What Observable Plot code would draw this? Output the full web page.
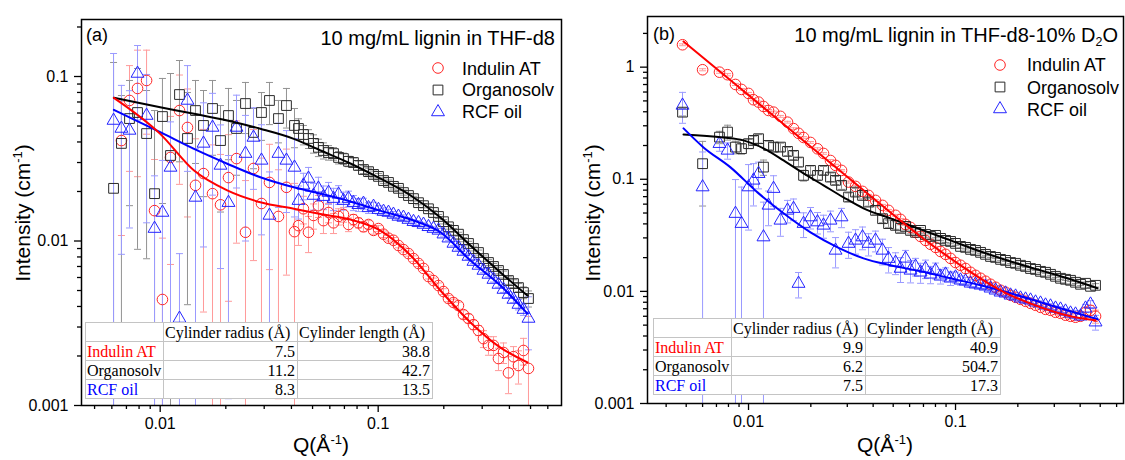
<!DOCTYPE html>
<html>
<head>
<meta charset="utf-8">
<script src="https://cdn.jsdelivr.net/npm/d3@7"></script>
<script src="https://cdn.jsdelivr.net/npm/@observablehq/plot@0.6"></script>
<style>
html,body{margin:0;padding:0;background:#fff;}
#chart{position:relative;width:1125px;height:460px;overflow:hidden;background:#fff;font-family:"Liberation Sans",Arial,Helvetica,sans-serif;color:#000;}
.txt{position:absolute;white-space:nowrap;line-height:1;}
.txt svg{display:block;overflow:visible;}
.ylab{position:absolute;white-space:nowrap;line-height:1;font-size:21px;transform:translate(-50%,-50%) rotate(-90deg);}
.xlab{position:absolute;white-space:nowrap;line-height:1;font-size:21px;transform:translateX(-50%);}
sup{font-size:0.62em;vertical-align:0.6em;line-height:0;}
sub{font-size:0.62em;vertical-align:-0.3em;line-height:0;}
table.fit{position:absolute;border-collapse:collapse;table-layout:fixed;width:347px;background:#fff;font-family:"Liberation Serif","Times New Roman",serif;font-size:16px;color:#000;}
table.fit td{border:1px solid #c4c4c4;height:19px;padding:0 2px 0 1px;line-height:17px;white-space:nowrap;overflow:visible;box-sizing:border-box;}
table.fit td.num{text-align:right;}
</style>
</head>
<body>
<div id="chart"></div>
<script>
// ---------------- data ----------------
const seriesNames = ["Indulin AT", "Organosolv", "RCF oil"];

// panel (a): THF-d8
const qA = [0.00611, 0.00664, 0.00723, 0.00787, 0.00866, 0.00942, 0.01024, 0.01115, 0.01226, 0.01334, 0.01452, 0.01580, 0.01738, 0.01891, 0.02057, 0.02239, 0.02462, 0.02679, 0.02915, 0.03172, 0.03488, 0.03796, 0.04131,
  0.0431, 0.0454, 0.0479, 0.0505, 0.0532, 0.0561, 0.0592, 0.0624, 0.0658, 0.0693, 0.0731, 0.0770, 0.0812, 0.0856, 0.0903, 0.0952, 0.1003, 0.1058, 0.1115, 0.1175, 0.1239, 0.1306, 0.1377, 0.1452, 0.1531, 0.1614, 0.1701, 0.1793, 0.1891, 0.1993, 0.2101, 0.2215, 0.2335, 0.2462, 0.2596, 0.2736, 0.2885, 0.3041, 0.3206, 0.3380, 0.3563, 0.3757, 0.3960, 0.4175, 0.4401, 0.4640, 0.4892];
const indulinA = [null, 0.0408, 0.0715, 0.0846, 0.0946, 0.0153, 0.00441, 0.0322, 0.0621, 0.0490, 0.0218, 0.0257, 0.0194, 0.0166, 0.0243, 0.0317, 0.0113, 0.0276, 0.0169, 0.0227, 0.0141, 0.0212, 0.0114,
  0.0124, 0.0157, 0.0113, 0.0143, 0.0164, 0.0133, 0.0149, 0.0129, 0.0141, 0.0145, 0.0126, 0.0135, 0.0129, 0.0122, 0.0126, 0.0116, 0.0119, 0.0110, 0.0104, 0.0101, 0.00939, 0.00887, 0.00839, 0.00782, 0.00730, 0.00681, 0.00608, 0.00575, 0.00536, 0.00493, 0.00447, 0.00423, 0.00405, 0.00357, 0.00338, 0.00310, 0.00286, 0.00255, 0.00232, 0.00232, 0.00193, 0.00210, 0.00158, 0.00198, 0.00175, 0.00216, 0.00168];
const indulinAErr = [null, 0.030, 0.045, 0.060, 0.050, 0.016, 0.006, 0.025, 0.040, 0.035, 0.020, 0.022, 0.019, 0.017, 0.020, 0.022, 0.012, 0.020, 0.015, 0.016, 0.013, 0.015, 0.011,
  0.0030, 0.0030, 0.0028, 0.0025, 0.0025, 0.0022, 0.0020, 0.0018, 0.0016, 0.0015, 0.0012, 0.0010, 0.0009, 0.0008, 0.0007, 0.0006, 0.0005, 0.0005, 0.0004, 0.0004, 0.0003, 0.0003, 0.0003, 0.0003, 0.0003, 0.0002, 0.0002, 0.0002, 0.0002, 0.0002, 0.0002, 0.0002, 0.0002, 0.0002, 0.0002, 0.0002, 0.0002, 0.0003, 0.0003, 0.0003, 0.0003, 0.0003, 0.0004, 0.0003, 0.0004, 0.0004, 0.0018];
const organosolvA = [0.0209, 0.0392, 0.0555, 0.0604, 0.0450, 0.0194, 0.0571, 0.0331, 0.0777, 0.0420, 0.0621, 0.0504, 0.0639, 0.0408, 0.0579, 0.0483, 0.0685, 0.0457, 0.0604, 0.0715, 0.0555, 0.0666, 0.0504,
  0.0483, 0.0444, 0.0420, 0.0392, 0.0371, 0.0355, 0.0345, 0.0340, 0.0322, 0.0317, 0.0305, 0.0300, 0.0288, 0.0272, 0.0264, 0.0254, 0.0247, 0.0233, 0.0227, 0.0215, 0.0209, 0.0197, 0.0189, 0.0181, 0.0171, 0.0164, 0.0157, 0.0149, 0.0141, 0.0131, 0.0122, 0.0116, 0.0110, 0.0102, 0.00966, 0.00900, 0.00851, 0.00782, 0.00740, 0.00700, 0.00662, 0.00626, 0.00575, 0.00551, 0.00521, 0.00486, 0.00447];
const organosolvAErr = [0.1008, 0.0374, 0.0391, 0.0515, 0.0372, 0.0427, 0.0402, 0.0712, 0.0474, 0.0379, 0.0325, 0.0318, 0.0307, 0.0258, 0.0267, 0.0232, 0.0235, 0.0182, 0.0195, 0.0205, 0.0160, 0.0180, 0.0135,
  0.0070, 0.0060, 0.0055, 0.0050, 0.0045, 0.0040, 0.0035, 0.0030, 0.0028, 0.0025, 0.0022, 0.0020, 0.0018, 0.0015, 0.0013, 0.0012, 0.0010, 0.0009, 0.0008, 0.0008, 0.0007, 0.0007, 0.0006, 0.0006, 0.0005, 0.0005, 0.0005, 0.0004, 0.0004, 0.0004, 0.0004, 0.0003, 0.0003, 0.0003, 0.0003, 0.0003, 0.0003, 0.0003, 0.0003, 0.0003, 0.0003, 0.0003, 0.0003, 0.0003, 0.0003, 0.0004, 0.0005];
const rcfA = [0.0540, 0.0483, 0.0470, 0.1043, 0.0579, 0.0119, 0.0149, 0.0280, 0.00338, 0.0715, 0.0184, 0.0392, 0.0490, 0.0288, 0.0171, 0.0490, 0.0340, 0.0426, 0.0309, 0.0143, 0.0340, 0.0309, 0.0280,
  0.0176, 0.0218, 0.0240, 0.0189, 0.0209, 0.0186, 0.0197, 0.0181, 0.0192, 0.0176, 0.0181, 0.0171, 0.0166, 0.0169, 0.0159, 0.0162, 0.0155, 0.0151, 0.0149, 0.0145, 0.0141, 0.0139, 0.0135, 0.0131, 0.0129, 0.0126, 0.0122, 0.0119, 0.0116, 0.0110, 0.0104, 0.00966, 0.00913, 0.00863, 0.00805, 0.00750, 0.00710, 0.00662, 0.00626, 0.00583, 0.00544, 0.00507, 0.00473, 0.00441, 0.00411, 0.00383, 0.00338];
const rcfAErr = [0.084, 0.040, 0.035, 0.050, 0.045, 0.013, 0.016, 0.025, 0.005, 0.045, 0.018, 0.030, 0.030, 0.022, 0.016, 0.028, 0.024, 0.022, 0.020, 0.012, 0.018, 0.016, 0.014,
  0.0040, 0.0040, 0.0040, 0.0035, 0.0035, 0.0030, 0.0030, 0.0028, 0.0025, 0.0022, 0.0020, 0.0018, 0.0015, 0.0013, 0.0012, 0.0010, 0.0009, 0.0008, 0.0007, 0.0006, 0.0005, 0.0005, 0.0004, 0.0004, 0.0004, 0.0003, 0.0003, 0.0003, 0.0003, 0.0003, 0.0003, 0.0003, 0.0003, 0.0003, 0.0003, 0.0002, 0.0002, 0.0002, 0.0002, 0.0002, 0.0002, 0.0002, 0.0002, 0.0002, 0.0003, 0.0003, 0.0012];
const fitQA = [0.00613, 0.0100, 0.0143, 0.0203, 0.0288, 0.0410, 0.0544, 0.0746, 0.102, 0.141, 0.193, 0.265, 0.364, 0.484];
const indulinFitA = [0.0742, 0.0448, 0.0268, 0.0203, 0.0172, 0.0157, 0.0146, 0.0135, 0.0116, 0.00816, 0.00500, 0.00320, 0.00225, 0.00183];
const organosolvFitA = [0.0742, 0.0651, 0.0593, 0.0540, 0.0481, 0.0418, 0.0355, 0.0296, 0.0240, 0.0189, 0.0139, 0.00939, 0.00644, 0.00466];
const rcfFitA = [0.0627, 0.0459, 0.0363, 0.0295, 0.0244, 0.0212, 0.0194, 0.0174, 0.0153, 0.0135, 0.0113, 0.00761, 0.00536, 0.00362];
const radiusA = [7.5, 11.2, 8.3];
const lengthA = [38.8, 42.7, 13.5];

// panel (b): THF-d8-10% D2O
const qB = [0.00480, 0.00600, 0.00724, 0.00792, 0.00865, 0.00925, 0.01000, 0.01057, 0.01118, 0.01181, 0.01249, 0.01321, 0.01427, 0.01543, 0.01650, 0.01744, 0.01844, 0.01993, 0.02154, 0.02303, 0.02489, 0.02633, 0.02814, 0.03042, 0.03288, 0.03554, 0.03800, 0.04107, 0.04440, 0.04747,
  0.05131, 0.05425, 0.05735, 0.06063, 0.06410, 0.06777, 0.07164, 0.07574, 0.08008, 0.08466, 0.08950, 0.09462, 0.1000, 0.1057, 0.1118, 0.1182, 0.1249, 0.1321, 0.1396, 0.1476, 0.1561, 0.1650, 0.1744, 0.1844, 0.1950, 0.2061, 0.2179, 0.2303, 0.2435, 0.2574, 0.2721, 0.2877, 0.3041, 0.3215, 0.3399, 0.3594, 0.3799, 0.4017, 0.4246, 0.4489, 0.4746];
const indulinB = [1.584, 0.948, 0.902, 0.856, 0.701, 0.633, 0.583, 0.512, 0.488, 0.446, 0.411, 0.397, 0.364, 0.323, 0.283, 0.257, 0.236, 0.213, 0.187, 0.170, 0.147, 0.133, 0.120, 0.0944, 0.0864, 0.0780, 0.0718, 0.0648, 0.0585, 0.0528,
  0.0477, 0.0439, 0.0396, 0.0372, 0.0336, 0.0309, 0.0285, 0.0263, 0.0247, 0.0227, 0.0214, 0.0197, 0.0181, 0.0171, 0.0160, 0.0148, 0.0139, 0.01309, 0.01231, 0.01157, 0.01088, 0.01023, 0.00982, 0.00923, 0.00886, 0.00850, 0.00816, 0.00783, 0.00752, 0.00721, 0.00692, 0.00678, 0.00651, 0.00638, 0.00613, 0.00600, 0.00588, 0.00600, 0.00651, 0.00678, 0.00600];
const indulinBErr = [0.03, 0.02, 0.02, 0.02, 0.015, 0.012, 0.012, 0.01, 0.01, 0.009, 0.008, 0.008, 0.007, 0.006, 0.005, 0.005, 0.004, 0.004, 0.004, 0.003, 0.003, 0.003, 0.002, 0.002, 0.002, 0.0015, 0.0015, 0.0013, 0.0012, 0.001,
  0.0009, 0.0008, 0.0007, 0.0006, 0.0006, 0.0005, 0.0005, 0.0004, 0.0004, 0.0004, 0.0003, 0.0003, 0.0003, 0.0003, 0.0003, 0.0003, 0.0002, 0.0002, 0.0002, 0.0002, 0.0002, 0.0002, 0.0002, 0.0002, 0.0002, 0.0002, 0.0002, 0.0002, 0.0002, 0.0002, 0.0002, 0.0003, 0.0003, 0.0003, 0.0003, 0.0003, 0.0004, 0.0005, 0.0006, 0.0007, 0.0008];
const organosolvB = [0.3969, 0.1377, 0.2377, 0.2635, 0.1936, 0.1874, 0.2076, 0.2222, 0.2301, 0.1284, 0.2005, 0.1936, 0.1936, 0.1773, 0.1634, 0.1423, 0.1083, 0.1200, 0.1083, 0.1200, 0.1046, 0.0978, 0.0883, 0.0694, 0.0769, 0.0718, 0.0626, 0.0528, 0.0445, 0.0402,
  0.0388, 0.0365, 0.0380, 0.0350, 0.0336, 0.0350, 0.0322, 0.0309, 0.0316, 0.0297, 0.0285, 0.0279, 0.0268, 0.0252, 0.0247, 0.0237, 0.0232, 0.0223, 0.0214, 0.0205, 0.0201, 0.0193, 0.0189, 0.0181, 0.0178, 0.0171, 0.0167, 0.0160, 0.0157, 0.0151, 0.0148, 0.0142, 0.01363, 0.01309, 0.01282, 0.01256, 0.01206, 0.01157, 0.01181, 0.01110, 0.01133];
const organosolvBErr = [0.03, 0.08, 0.03, 0.04, 0.025, 0.02, 0.02, 0.02, 0.02, 0.02, 0.018, 0.018, 0.016, 0.015, 0.014, 0.013, 0.012, 0.011, 0.01, 0.01, 0.009, 0.008, 0.007, 0.006, 0.006, 0.005, 0.005, 0.004, 0.0035, 0.003,
  0.003, 0.0028, 0.0026, 0.0024, 0.0022, 0.002, 0.0018, 0.0016, 0.0015, 0.0014, 0.0012, 0.001, 0.001, 0.0009, 0.0008, 0.0008, 0.0007, 0.0006, 0.0006, 0.0005, 0.0005, 0.0005, 0.0004, 0.0004, 0.0004, 0.0004, 0.0003, 0.0003, 0.0003, 0.0003, 0.0003, 0.0003, 0.0003, 0.0003, 0.0003, 0.0003, 0.0003, 0.0003, 0.0003, 0.0003, 0.0004];
const rcfB = [0.4556, 0.0852, 0.2076, 0.1810, 0.0494, 0.0402, 0.0852, 0.0978, 0.1121, 0.0305, 0.0585, 0.0825, 0.0430, 0.0528, 0.0547, 0.01174, 0.0402, 0.0460, 0.0415, 0.0388, 0.0430, 0.0232, 0.0460, 0.0267, 0.0285, 0.0305, 0.0267, 0.0285, 0.0232, 0.0196,
  0.0181, 0.0160, 0.0197, 0.0154, 0.0167, 0.0148, 0.0160, 0.0142, 0.0154, 0.01363, 0.0142, 0.01309, 0.01337, 0.01256, 0.01231, 0.01181, 0.01157, 0.01133, 0.01110, 0.01066, 0.01023, 0.00982, 0.00962, 0.00923, 0.00904, 0.00868, 0.00850, 0.00833, 0.00800, 0.00783, 0.00752, 0.00737, 0.00706, 0.00692, 0.00664, 0.00638, 0.00625, 0.00600, 0.00706, 0.00767, 0.00531];
const rcfBErr = [0.14, 0.09, 0.03, 0.03, 0.05, 0.045, 0.05, 0.04, 0.03, 0.032, 0.02, 0.025, 0.012, 0.012, 0.012, 0.003, 0.01, 0.01, 0.009, 0.009, 0.009, 0.007, 0.009, 0.007, 0.007, 0.007, 0.006, 0.006, 0.006, 0.005,
  0.004, 0.004, 0.0035, 0.0035, 0.003, 0.003, 0.003, 0.0025, 0.0025, 0.002, 0.002, 0.0018, 0.0015, 0.0012, 0.001, 0.0009, 0.0008, 0.0007, 0.0006, 0.0005, 0.0005, 0.0005, 0.0004, 0.0004, 0.0004, 0.0004, 0.0004, 0.0004, 0.0004, 0.0004, 0.0004, 0.0004, 0.0004, 0.0004, 0.0004, 0.0004, 0.0005, 0.0005, 0.0006, 0.0006, 0.0008];
const indulinFitQB = [0.004853, 0.007323, 0.01143, 0.01783, 0.02783, 0.04342, 0.06777, 0.1057, 0.1650, 0.2574, 0.3594, 0.4746];
const indulinFitB = [1.695, 0.9043, 0.4585, 0.2324, 0.1181, 0.0599, 0.0309, 0.0171, 0.01023, 0.00721, 0.00600, 0.00553];
const organosolvFitQB = [0.004853, 0.007571, 0.009459, 0.01181, 0.01476, 0.01844, 0.02303, 0.02877, 0.03594, 0.04853, 0.06777, 0.09462, 0.1321, 0.1844, 0.2574, 0.3594, 0.4853];
const organosolvFitB = [0.2513, 0.2363, 0.2222, 0.1886, 0.1474, 0.1129, 0.0883, 0.0690, 0.0550, 0.0448, 0.0357, 0.0285, 0.0227, 0.0185, 0.0154, 0.01282, 0.01066];
const rcfFitQB = [0.004853, 0.006061, 0.008186, 0.01105, 0.01476, 0.01993, 0.02692, 0.03594, 0.04853, 0.06777, 0.09462, 0.1321, 0.1844, 0.2574, 0.3594, 0.4853];
const rcfFitB = [0.2843, 0.1924, 0.1277, 0.0764, 0.0497, 0.0336, 0.0247, 0.0197, 0.0171, 0.0151, 0.01309, 0.01133, 0.00962, 0.00800, 0.00664, 0.00564];
const radiusB = [9.9, 6.2, 7.5];
const lengthB = [40.9, 504.7, 17.3];

// ticks
const yMajorA = [0.001, 0.01, 0.1];
const yMinorA = [0.002, 0.003, 0.004, 0.005, 0.006, 0.007, 0.008, 0.009, 0.02, 0.03, 0.04, 0.05, 0.06, 0.07, 0.08, 0.09, 0.2];
const yMajorB = [0.001, 0.01, 0.1, 1];
const yMinorB = [0.002, 0.003, 0.004, 0.005, 0.006, 0.007, 0.008, 0.009, 0.02, 0.03, 0.04, 0.05, 0.06, 0.07, 0.08, 0.09, 0.2, 0.3, 0.4, 0.5, 0.6, 0.7, 0.8, 0.9, 2];
const xMajor = [0.01, 0.1];
const xMinorA = [0.005, 0.006, 0.007, 0.008, 0.009, 0.02, 0.03, 0.04, 0.05, 0.06, 0.07, 0.08, 0.09, 0.2, 0.3, 0.4, 0.5, 0.6];
const xMinorB = [0.004, 0.005, 0.006, 0.007, 0.008, 0.009, 0.02, 0.03, 0.04, 0.05, 0.06, 0.07, 0.08, 0.09, 0.2, 0.3, 0.4, 0.5, 0.6];

// ---------------- styles ----------------
const markerColors = ["#ff2424", "#2a2a2a", "#2424ff"];
const barColors = ["#ff9a9a", "#929292", "#9a9aff"];
const lineColors = ["#ff0000", "#000000", "#0000ff"];
const symbolNames = ["circle", "square", "triangle"];
const d3Symbols = [d3.symbolCircle, d3.symbolSquare, d3.symbolTriangle];
const markerR = [5.3, 5.5, 4.8];
const capSymbol = {draw(ctx, size) { const w = Math.sqrt(size / Math.PI); ctx.moveTo(-w, 0); ctx.lineTo(w, 0); }};

function seriesRows(q, I, err) {
  return q.map((qq, i) => ({q: qq, I: I[i], e: err[i]})).filter(d => d.I != null);
}

function buildPanel(cfg) {
  const marks = [];
  const yMin = cfg.yDomain[0];
  const groups = cfg.series.map(s => seriesRows(cfg.q, s.I, s.err));
  groups.forEach((rows, k) => {
    marks.push(Plot.ruleX(rows, {x: "q", y1: d => Math.max(d.I - d.e, yMin / 10), y2: d => d.I + d.e, stroke: barColors[k], strokeWidth: 1, clip: true}));
    marks.push(Plot.dot(rows, {x: "q", y: d => d.I + d.e, symbol: capSymbol, r: 3.5, stroke: barColors[k], fill: "none", strokeWidth: 1, clip: true}));
    marks.push(Plot.dot(rows.filter(d => d.I - d.e > yMin), {x: "q", y: d => d.I - d.e, symbol: capSymbol, r: 3.5, stroke: barColors[k], fill: "none", strokeWidth: 1, clip: true}));
  });
  groups.forEach((rows, k) => {
    marks.push(Plot.dot(rows, {x: "q", y: "I", symbol: symbolNames[k], r: markerR[k], stroke: markerColors[k], fill: "none", strokeWidth: 1, clip: true}));
  });
  [1, 2, 0].forEach(k => {
    const f = cfg.fits[k];
    const rows = f.q.map((qq, i) => ({q: qq, I: f.I[i]}));
    marks.push(Plot.line(rows, {x: "q", y: "I", stroke: lineColors[k], strokeWidth: 2, curve: "monotone-x", clip: true}));
  });
  marks.push(Plot.axisY(cfg.yMinor, {tickSize: 4, tickFormat: () => "", label: null, strokeWidth: 1.3}));
  marks.push(Plot.axisY(cfg.yMajor, {tickSize: 7, tickPadding: 6, tickFormat: d => String(d), fontSize: 16, label: null, strokeWidth: 1.3}));
  marks.push(Plot.axisX(cfg.xMinor, {tickSize: 4, tickFormat: () => "", label: null, strokeWidth: 1.3}));
  marks.push(Plot.axisX(xMajor, {tickSize: 7, tickPadding: 5, tickFormat: d => String(d), fontSize: 16, label: null, strokeWidth: 1.3}));
  marks.push(Plot.frame({stroke: "#000", strokeWidth: 1.5}));
  const svg = Plot.plot({
    width: cfg.width, height: 460,
    marginLeft: cfg.ml, marginRight: cfg.mr, marginTop: cfg.mt, marginBottom: cfg.mb,
    x: {type: "log", domain: cfg.xDomain, label: null},
    y: {type: "log", domain: cfg.yDomain, label: null},
    style: {fontFamily: "'Liberation Sans', Arial, sans-serif", fontSize: "16px", color: "#000", background: "transparent", overflow: "visible"},
    marks
  });
  svg.style.position = "absolute";
  svg.style.top = "0px";
  svg.style.left = cfg.left + "px";
  return svg;
}

const chart = document.getElementById("chart");

chart.appendChild(buildPanel({
  left: 0, width: 565, ml: 81, mr: 4, mt: 19, mb: 55,
  xDomain: [0.004355, 0.6934], yDomain: [0.001, 0.2221],
  yMajor: yMajorA, yMinor: yMinorA, xMinor: xMinorA,
  q: qA,
  series: [{I: indulinA, err: indulinAErr}, {I: organosolvA, err: organosolvAErr}, {I: rcfA, err: rcfAErr}],
  fits: [{q: fitQA, I: indulinFitA}, {q: fitQA, I: organosolvFitA}, {q: fitQA, I: rcfFitA}]
}));

chart.appendChild(buildPanel({
  left: 565, width: 560, ml: 82, mr: 2, mt: 16, mb: 57,
  xDomain: [0.003251, 0.6478], yDomain: [0.001, 2.83],
  yMajor: yMajorB, yMinor: yMinorB, xMinor: xMinorB,
  q: qB,
  series: [{I: indulinB, err: indulinBErr}, {I: organosolvB, err: organosolvBErr}, {I: rcfB, err: rcfBErr}],
  fits: [{q: indulinFitQB, I: indulinFitB}, {q: organosolvFitQB, I: organosolvFitB}, {q: rcfFitQB, I: rcfFitB}]
}));

// ---------------- text overlays ----------------
function addDiv(html, cls, style) {
  const d = document.createElement("div");
  d.className = cls;
  d.innerHTML = html;
  Object.assign(d.style, style);
  chart.appendChild(d);
  return d;
}

function addLegend(markerX, textX, centers) {
  seriesNames.forEach((name, k) => {
    const cy = centers[k];
    const path = d3.symbol(d3Symbols[k], Math.PI * markerR[k] * markerR[k])();
    addDiv(`<svg width="20" height="20"><path transform="translate(10,10)" d="${path}" fill="none" stroke="${markerColors[k]}" stroke-width="1"/></svg>`,
      "txt", {left: (markerX - 10) + "px", top: (cy - 10) + "px"});
    addDiv(name, "txt", {left: textX + "px", top: (cy - 8.8) + "px", fontSize: "18px"});
  });
}

function addTable(left, top, radius, length) {
  const t = document.createElement("table");
  t.className = "fit";
  t.style.left = left + "px";
  t.style.top = top + "px";
  let html = '<colgroup><col style="width:78px"><col style="width:134px"><col style="width:135px"></colgroup>';
  html += '<tr><td></td><td>Cylinder radius (Å)</td><td>Cylinder length (Å)</td></tr>';
  seriesNames.forEach((name, k) => {
    html += `<tr><td style="color:${lineColors[k]}">${name}</td><td class="num">${radius[k].toFixed(1)}</td><td class="num">${length[k].toFixed(1)}</td></tr>`;
  });
  t.innerHTML = html;
  chart.appendChild(t);
}

// panel (a)
addDiv("(a)", "txt", {left: "86px", top: "26px", fontSize: "18px"});
addDiv("10 mg/mL lignin in THF-d8", "txt", {right: "570px", top: "28px", fontSize: "20px"});
addLegend(438, 462, [68.3, 90, 111.7]);
addTable(85, 322, radiusA, lengthA);
addDiv("Intensity (cm<sup>-1</sup>)", "ylab", {left: "22px", top: "213px"});
addDiv("Q(Å<sup>-1</sup>)", "xlab", {left: "321px", top: "434px"});

// panel (b)
addDiv("(b)", "txt", {left: "653px", top: "24.5px", fontSize: "18px"});
addDiv("10 mg/mL lignin in THF-d8-10% D<sub>2</sub>O", "txt", {right: "7px", top: "24.8px", fontSize: "20px"});
addLegend(1000, 1027, [65, 87.3, 109.3]);
addTable(653, 318, radiusB, lengthB);
addDiv("Intensity (cm<sup>-1</sup>)", "ylab", {left: "592px", top: "213px"});
addDiv("Q(Å<sup>-1</sup>)", "xlab", {left: "885px", top: "434px"});
</script>
</body>
</html>
